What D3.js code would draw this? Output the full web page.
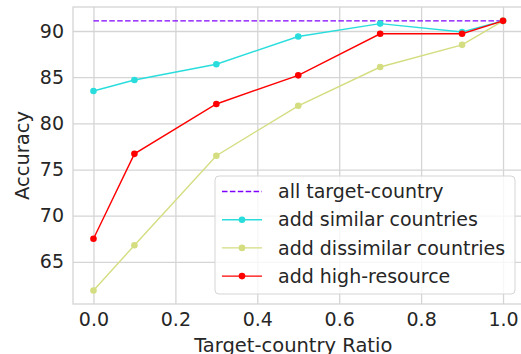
<!DOCTYPE html>
<html>
<head>
<meta charset="utf-8">
<script src="https://cdn.jsdelivr.net/npm/d3@7"></script>
<style>
  body { margin: 0; background: #fff; }
  text { font-family: "DejaVu Sans", sans-serif; fill: #262626; }
</style>
</head>
<body>
<div id="chart"></div>
<script>
// data
var ratios = [0.0, 0.1, 0.3, 0.5, 0.7, 0.9, 1.0];
var allTarget = 91.1;
var similar = [83.5, 84.7, 86.4, 89.4, 90.8, 89.9, 91.1];
var dissimilar = [61.9, 66.8, 76.5, 81.9, 86.1, 88.5, 91.1];
var highResource = [67.5, 76.7, 82.1, 85.2, 89.7, 89.7, 91.1];
var xTicks = [0.0, 0.2, 0.4, 0.6, 0.8, 1.0];
var yTicks = [65, 70, 75, 80, 85, 90];
var seriesNames = ['all target-country', 'add similar countries', 'add dissimilar countries', 'add high-resource'];
var seriesColors = ['#8000ff', '#2adddd', '#d4dd80', '#ff0000'];

var width = 521, height = 354;
var plotLeft = 73, plotTop = 7, plotRight = 523.5, plotBottom = 304;

var svg = d3.select('#chart')
  .append('svg')
  .attr('width', width)
  .attr('height', height);

var x = d3.scaleLinear().domain([-0.05, 1.05]).range([plotLeft, plotRight]);
var y = d3.scaleLinear().domain([60.44, 92.6]).range([plotBottom, plotTop]);

// grid
var xAxis = svg.append('g')
  .attr('transform', 'translate(0,' + plotBottom + ')')
  .call(d3.axisBottom(x).tickValues(xTicks).tickFormat(d3.format('.1f'))
    .tickSize(-(plotBottom - plotTop)).tickPadding(9));
var yAxis = svg.append('g')
  .attr('transform', 'translate(' + plotLeft + ',0)')
  .call(d3.axisLeft(y).tickValues(yTicks).tickSize(-(plotRight - plotLeft)).tickPadding(9));

[xAxis, yAxis].forEach(function (ax) {
  ax.select('.domain').remove();
  ax.selectAll('.tick line').attr('stroke', '#d5d5d5').attr('stroke-width', 1.3);
  ax.selectAll('.tick text').style('font-size', '19px').attr('fill', '#262626');
});

// spines
svg.append('rect')
  .attr('x', plotLeft).attr('y', plotTop)
  .attr('width', plotRight - plotLeft).attr('height', plotBottom - plotTop)
  .attr('fill', 'none').attr('stroke', '#d5d5d5').attr('stroke-width', 1.3);

// reference line
svg.append('line')
  .attr('x1', x(0)).attr('x2', x(1))
  .attr('y1', y(allTarget)).attr('y2', y(allTarget))
  .attr('stroke', seriesColors[0]).attr('stroke-width', 1.4)
  .attr('stroke-dasharray', '5.5,2.4');

var line = d3.line()
  .x(function (d, i) { return x(ratios[i]); })
  .y(function (d) { return y(d); });

[similar, dissimilar, highResource].forEach(function (vals, k) {
  var color = seriesColors[k + 1];
  svg.append('path')
    .datum(vals)
    .attr('d', line)
    .attr('fill', 'none')
    .attr('stroke', color)
    .attr('stroke-width', 1.4);
  svg.selectAll('.pt' + k)
    .data(vals)
    .enter()
    .append('circle')
    .attr('cx', function (d, i) { return x(ratios[i]); })
    .attr('cy', function (d) { return y(d); })
    .attr('r', 3.3)
    .attr('fill', color);
});

// legend
var legend = svg.append('g').attr('transform', 'translate(215,176)');
legend.append('rect')
  .attr('width', 300).attr('height', 118)
  .attr('rx', 4)
  .attr('fill', 'rgba(255,255,255,0.8)')
  .attr('stroke', '#d5d5d5').attr('stroke-width', 1);

seriesNames.forEach(function (name, i) {
  var cy = 15.5 + i * 28.2;
  var row = legend.append('g');
  row.append('line')
    .attr('x1', 7).attr('x2', 47)
    .attr('y1', cy).attr('y2', cy)
    .attr('stroke', seriesColors[i]).attr('stroke-width', 1.4)
    .attr('stroke-dasharray', i === 0 ? '5.5,2.4' : null);
  if (i > 0) {
    row.append('circle').attr('cx', 27).attr('cy', cy).attr('r', 3.3).attr('fill', seriesColors[i]);
  }
  row.append('text')
    .attr('x', 63).attr('y', cy)
    .attr('dy', '0.35em')
    .style('font-size', '19px')
    .text(name);
});

// axis labels
svg.append('text')
  .attr('x', (plotLeft + plotRight) / 2 - 5)
  .attr('y', 352)
  .attr('text-anchor', 'middle')
  .style('font-size', '19.5px')
  .text('Target-country Ratio');

svg.append('text')
  .attr('transform', 'translate(29,' + ((plotTop + plotBottom) / 2) + ') rotate(-90)')
  .attr('text-anchor', 'middle')
  .style('font-size', '19.5px')
  .text('Accuracy');
</script>
</body>
</html>
